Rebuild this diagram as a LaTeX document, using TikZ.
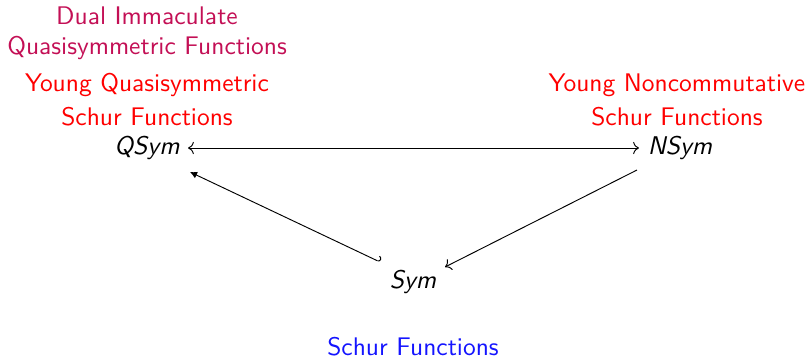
\documentclass[tikz,border=0pt]{standalone}
\usetikzlibrary{arrows.meta}
\definecolor{dualcol}{RGB}{195,15,85}
\definecolor{youngcol}{RGB}{255,0,0}
\definecolor{schurcol}{RGB}{20,20,255}
\begin{document}
\begin{tikzpicture}[x=0.4239pt,y=-0.4239pt,font=\sffamily,
  obj/.style={inner sep=2pt,font={\sffamily\itshape\fontsize{10.85}{13}\selectfont}},
  lab/.style={align=center,inner sep=0pt,font={\sffamily\fontsize{10.8}{14.4}\selectfont}},
  cdline/.style={line width=0.4pt}]
\useasboundingbox (0,0) rectangle (809,360);
\node[obj] (Q) at (147,148) {QSym};
\node[obj] (N) at (680,148) {NSym};
\node[obj] (S) at (413,282) {Sym};
\node[lab,text=dualcol,font={\sffamily\fontsize{10.8}{12.7}\selectfont}] (dq) at (147,33) {Dual Immaculate\\Quasisymmetric Functions};
\node[lab,text=youngcol] (yq) at (147,100) {Young Quasisymmetric\\Schur Functions};
\node[lab,text=youngcol] (yn) at (677,100) {Young Noncommutative\\Schur Functions};
\node[lab,text=schurcol] (sf) at (413,347) {Schur Functions};
\coordinate (qa) at (188,148);
\coordinate (na) at (639,148);
\draw[cdline,{To}-{To}] (qa) -- (na);
\coordinate (s1) at (380,262);
\coordinate (q1) at (190,172);
\draw[cdline,{Hooks[left]}-{Latex[length=3pt,width=3pt]}] (s1) -- (q1);
\coordinate (n1) at (637,170);
\coordinate (s2) at (445,267);
\draw[cdline,-{To}] (n1) -- (s2);
\end{tikzpicture}
\end{document}
